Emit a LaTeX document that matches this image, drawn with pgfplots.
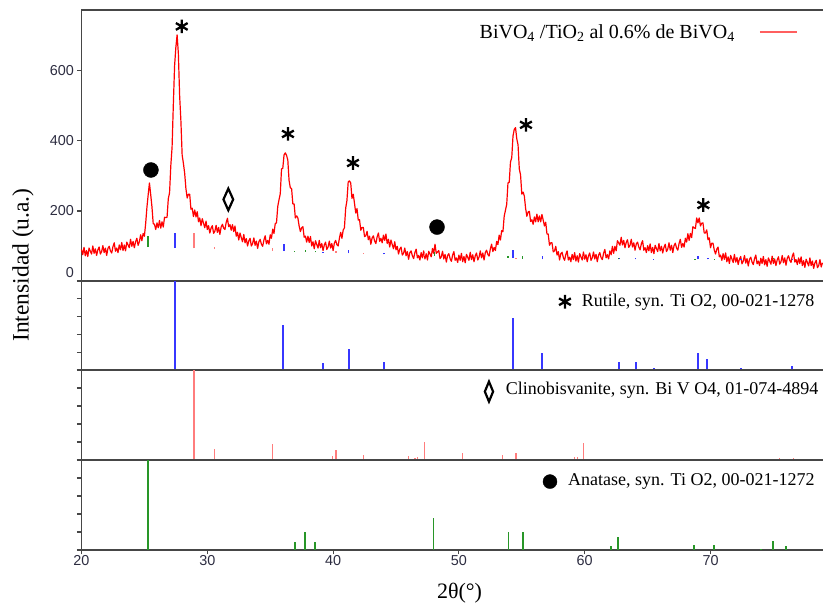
\documentclass[border=0pt]{standalone}
\usepackage{pgfplots}
\pgfplotsset{compat=1.18}
\usepackage{fontspec}
\setmainfont{Liberation Serif}
\newfontfamily\sansfont{Liberation Sans}
\definecolor{rutblue}{RGB}{55,55,255}
\definecolor{clinopink}{RGB}{255,125,125}
\definecolor{anagreen}{RGB}{40,150,40}
\definecolor{framegray}{RGB}{70,70,70}
\definecolor{ticktext}{RGB}{45,45,65}
\definecolor{legendred}{RGB}{255,95,95}
\pgfplotsset{
  panel/.style={
    scale only axis, anchor=south west, width=745pt,
    xmin=20, xmax=79.22,
    axis line style={framegray, line width=1.3pt},
    tick align=outside,
    major tick length=4.5pt,
    tick style={framegray, line width=1.1pt},
    ticklabel style={font=\sansfont\fontsize{14.4}{16}\selectfont, text=ticktext},
    /pgf/number format/assume math mode=true,
    xtick pos=bottom, ytick pos=left,
    clip=false,
  },
}
\begin{document}
\begin{tikzpicture}
\path[use as bounding box] (0,0) rectangle (823pt,607pt);

% ---------- top panel: measured pattern ----------
\begin{axis}[panel, at={(81.5pt,326pt)}, height=271pt,
  ymin=0, ymax=774, xtick=\empty,
  ytick={0,200,400,600},
  yticklabels={{\smash{\raisebox{3pt}{0}}},200,400,600},
  yticklabel style={inner sep=3pt},
  legend plot pos=right,
  legend image code/.code={\draw[legendred, line width=2pt] (0pt,0pt) -- (37pt,0pt);},
  legend style={at={(0.9617,0.918)}, anchor=east, draw=none, fill=none,
    inner sep=0pt, font=\fontsize{20}{22}\selectfont,
    /tikz/every odd column/.append style={column sep=22pt}},
]
\addplot[red, line width=1.2pt, line join=round, mark=none] coordinates {
(20.0,90) (20.1,75) (20.2,96) (20.3,72) (20.4,87) (20.5,70) (20.6,94) (20.7,85) (20.8,77) (20.9,100)
(21.0,79) (21.1,92) (21.2,73) (21.3,89) (21.4,97) (21.5,77) (21.6,84) (21.7,101) (21.8,81) (21.9,94)
(22.0,73) (22.1,93) (22.2,99) (22.3,86) (22.4,80) (22.5,98) (22.6,109) (22.7,85) (22.8,94) (22.9,81)
(23.0,103) (23.1,89) (23.2,110) (23.3,87) (23.4,103) (23.5,86) (23.6,111) (23.7,103) (23.8,95) (23.9,119)
(24.0,99) (24.1,113) (24.2,95) (24.3,112) (24.4,122) (24.5,102) (24.6,112) (24.7,132) (24.8,115) (24.9,136)
(25.0,128) (25.1,164) (25.2,210) (25.3,246) (25.4,280) (25.5,247) (25.6,212) (25.7,164) (25.8,162) (25.9,147)
(26.0,166) (26.1,152) (26.2,173) (26.3,151) (26.4,169) (26.5,154) (26.6,182) (26.7,181) (26.8,182) (26.9,235)
(27.0,252) (27.1,330) (27.2,382) (27.3,504) (27.4,615) (27.5,667) (27.6,703) (27.7,649) (27.8,530) (27.9,458)
(28.0,360) (28.1,336) (28.2,308) (28.3,264) (28.4,237) (28.5,248) (28.6,248) (28.7,205) (28.8,208) (28.9,184)
(29.0,203) (29.1,183) (29.2,198) (29.3,169) (29.4,180) (29.5,158) (29.6,178) (29.7,165) (29.8,152) (29.9,171)
(30.0,147) (30.1,158) (30.2,137) (30.3,151) (30.4,158) (30.5,136) (30.6,142) (30.7,159) (30.8,139) (30.9,153)
(31.0,133) (31.1,154) (31.2,162) (31.3,151) (31.4,147) (31.5,167) (31.6,179) (31.7,155) (31.8,161) (31.9,145)
(32.0,161) (32.1,141) (32.2,157) (32.3,128) (32.4,139) (32.5,117) (32.6,137) (32.7,124) (32.8,112) (32.9,133)
(33.0,109) (33.1,121) (33.2,100) (33.3,115) (33.4,122) (33.5,100) (33.6,107) (33.7,123) (33.8,102) (33.9,114)
(34.0,93) (34.1,112) (34.2,119) (34.3,105) (34.4,99) (34.5,117) (34.6,129) (34.7,106) (34.8,116) (34.9,105)
(35.0,132) (35.1,122) (35.2,148) (35.3,136) (35.4,164) (35.5,166) (35.6,213) (35.7,232) (35.8,249) (35.9,320)
(36.0,322) (36.1,360) (36.2,366) (36.3,359) (36.4,345) (36.5,287) (36.6,266) (36.7,264) (36.8,220) (36.9,220)
(37.0,180) (37.1,186) (37.2,180) (37.3,157) (37.4,141) (37.5,152) (37.6,155) (37.7,125) (37.8,128) (37.9,111)
(38.0,128) (38.1,110) (38.2,127) (38.3,100) (38.4,112) (38.5,92) (38.6,115) (38.7,104) (38.8,94) (38.9,116)
(39.0,95) (39.1,107) (39.2,87) (39.3,103) (39.4,111) (39.5,90) (39.6,97) (39.7,114) (39.8,94) (39.9,107)
(40.0,87) (40.1,108) (40.2,116) (40.3,104) (40.4,100) (40.5,122) (40.6,139) (40.7,122) (40.8,145) (40.9,152)
(41.0,208) (41.1,230) (41.2,283) (41.3,286) (41.4,280) (41.5,236) (41.6,248) (41.7,222) (41.8,194) (41.9,207)
(42.0,174) (42.1,175) (42.2,145) (42.3,153) (42.4,153) (42.5,127) (42.6,129) (42.7,142) (42.8,118) (42.9,128)
(43.0,105) (43.1,123) (43.2,129) (43.3,114) (43.4,107) (43.5,126) (43.6,137) (43.7,113) (43.8,122) (43.9,109)
(44.0,131) (44.1,116) (44.2,134) (44.3,107) (44.4,119) (44.5,97) (44.6,117) (44.7,104) (44.8,92) (44.9,112)
(45.0,89) (45.1,99) (45.2,77) (45.3,91) (45.4,97) (45.5,74) (45.6,79) (45.7,94) (45.8,72) (45.9,84)
(46.0,62) (46.1,81) (46.2,86) (46.3,72) (46.4,64) (46.5,81) (46.6,91) (46.7,66) (46.8,73) (46.9,60)
(47.0,81) (47.1,66) (47.2,86) (47.3,63) (47.4,78) (47.5,60) (47.6,85) (47.7,77) (47.8,69) (47.9,93)
(48.0,79) (48.1,105) (48.2,79) (48.3,83) (48.4,87) (48.5,64) (48.6,69) (48.7,85) (48.8,63) (48.9,76)
(49.0,54) (49.1,73) (49.2,78) (49.3,64) (49.4,56) (49.5,74) (49.6,84) (49.7,59) (49.8,66) (49.9,53)
(50.0,74) (50.1,59) (50.2,79) (50.3,55) (50.4,70) (50.5,52) (50.6,76) (50.7,68) (50.8,59) (50.9,82)
(51.0,61) (51.1,75) (51.2,55) (51.3,72) (51.4,80) (51.5,60) (51.6,68) (51.7,86) (51.8,66) (51.9,80)
(52.0,60) (52.1,81) (52.2,88) (52.3,76) (52.4,71) (52.5,92) (52.6,105) (52.7,84) (52.8,96) (52.9,87)
(53.0,113) (53.1,104) (53.2,131) (53.3,117) (53.4,144) (53.5,141) (53.6,185) (53.7,202) (53.8,219) (53.9,280)
(54.0,282) (54.1,340) (54.2,352) (54.3,414) (54.4,433) (54.5,438) (54.6,406) (54.7,389) (54.8,320) (54.9,303)
(55.0,248) (55.1,254) (55.2,243) (55.3,208) (55.4,185) (55.5,197) (55.6,199) (55.7,170) (55.8,175) (55.9,162)
(56.0,183) (56.1,169) (56.2,191) (56.3,169) (56.4,186) (56.5,169) (56.6,190) (56.7,174) (56.8,157) (56.9,168)
(57.0,134) (57.1,134) (57.2,102) (57.3,109) (57.4,109) (57.5,83) (57.6,86) (57.7,99) (57.8,74) (57.9,84)
(58.0,60) (58.1,78) (58.2,82) (58.3,67) (58.4,59) (58.5,76) (58.6,86) (58.7,60) (58.8,68) (58.9,55)
(59.0,76) (59.1,61) (59.2,81) (59.3,57) (59.4,72) (59.5,54) (59.6,78) (59.7,69) (59.8,60) (59.9,83)
(60.0,62) (60.1,75) (60.2,55) (60.3,72) (60.4,80) (60.5,59) (60.6,66) (60.7,83) (60.8,63) (60.9,76)
(61.0,55) (61.1,74) (61.2,81) (61.3,67) (61.4,61) (61.5,79) (61.6,90) (61.7,66) (61.8,75) (61.9,63)
(62.0,86) (62.1,75) (62.2,99) (62.3,79) (62.4,99) (62.5,86) (62.6,115) (62.7,109) (62.8,102) (62.9,125)
(63.0,103) (63.1,116) (63.2,95) (63.3,110) (63.4,118) (63.5,96) (63.6,102) (63.7,119) (63.8,97) (63.9,109)
(64.0,88) (64.1,106) (64.2,111) (64.3,97) (64.4,89) (64.5,106) (64.6,115) (64.7,88) (64.8,95) (64.9,81)
(65.0,101) (65.1,86) (65.2,106) (65.3,81) (65.4,96) (65.5,78) (65.6,102) (65.7,93) (65.8,84) (65.9,107)
(66.0,86) (66.1,99) (66.2,80) (66.3,96) (66.4,105) (66.5,84) (66.6,91) (66.7,109) (66.8,88) (66.9,102)
(67.0,81) (67.1,101) (67.2,108) (67.3,94) (67.4,88) (67.5,107) (67.6,119) (67.7,96) (67.8,107) (67.9,97)
(68.0,122) (68.1,111) (68.2,135) (68.3,116) (68.4,136) (68.5,124) (68.6,155) (68.7,152) (68.8,150) (68.9,180)
(69.0,166) (69.1,180) (69.2,157) (69.3,165) (69.4,166) (69.5,137) (69.6,137) (69.7,146) (69.8,118) (69.9,123)
(70.0,95) (70.1,108) (70.2,108) (70.3,88) (70.4,77) (70.5,91) (70.6,97) (70.7,69) (70.8,74) (70.9,59)
(71.0,78) (71.1,62) (71.2,80) (71.3,55) (71.4,69) (71.5,50) (71.6,73) (71.7,63) (71.8,53) (71.9,76)
(72.0,54) (72.1,67) (72.2,47) (72.3,63) (72.4,70) (72.5,49) (72.6,56) (72.7,73) (72.8,51) (72.9,64)
(73.0,43) (73.1,62) (73.2,68) (73.3,54) (73.4,47) (73.5,64) (73.6,74) (73.7,49) (73.8,57) (73.9,44)
(74.0,65) (74.1,50) (74.2,70) (74.3,46) (74.4,61) (74.5,42) (74.6,66) (74.7,57) (74.8,48) (74.9,71)
(75.0,50) (75.1,63) (75.2,44) (75.3,60) (75.4,69) (75.5,48) (75.6,55) (75.7,73) (75.8,52) (75.9,66)
(76.0,45) (76.1,65) (76.2,72) (76.3,59) (76.4,53) (76.5,71) (76.6,80) (76.7,54) (76.8,61) (76.9,47)
(77.0,66) (77.1,50) (77.2,69) (77.3,44) (77.4,58) (77.5,39) (77.6,62) (77.7,53) (77.8,43) (77.9,66)
(78.0,44) (78.1,57) (78.2,36) (78.3,52) (78.4,59) (78.5,38) (78.6,44) (78.7,61) (78.8,40) (78.9,52)
};
\addlegendentry{BiVO\textsubscript{4} /TiO\textsubscript{2} al 0.6\% de BiVO\textsubscript{4}}
% reference sticks overlaid on the pattern
\addplot[forget plot, draw=none, mark=none, error bars/.cd, y dir=plus, y explicit, error mark=none,
  error bar style={draw=rutblue, line width=1.6pt}] coordinates {
(27.45,94) +- (0,42) (36.09,85) +- (0,21) (39.19,81) +- (0,3.2) (41.23,79) +- (0,10)
(44.05,76) +- (0,4) (54.32,65) +- (0,24) (56.64,62) +- (0,8) (62.74,62) +- (0,4)
(64.04,62) +- (0,4) (65.48,62) +- (0,1) (69.01,62) +- (0,8) (69.79,62) +- (0,5)
(72.41,62) +- (0,1) (76.51,62) +- (0,2)};
\addplot[forget plot, draw=none, mark=none, error bars/.cd, y dir=plus, y explicit, error mark=none,
  error bar style={draw=anagreen, line width=1.4pt}] coordinates {
(25.28,97) +- (0,31) (36.95,84) +- (0,3) (37.80,83) +- (0,6) (38.58,82) +- (0,3)
(48.05,72) +- (0,11) (53.89,66) +- (0,6) (55.06,64) +- (0,6) (62.69,62) +- (0,4)
(68.76,62) +- (0,2) (70.31,62) +- (0,2) (75.03,62) +- (0,3)};
\addplot[forget plot, draw=none, mark=none, error bars/.cd, y dir=plus, y explicit, error mark=none,
  error bar style={draw=clinopink, line width=1.3pt}] coordinates {
(28.94,93) +- (0,45) (30.56,91) +- (0,6) (35.2,86) +- (0,8) (40.23,80) +- (0,5)
(42.4,78) +- (0,3) (47.25,72) +- (0,9) (50.3,69) +- (0,3) (54.54,64) +- (0,3) (59.92,62) +- (0,9)};
% phase markers
\addplot[forget plot, only marks, mark=asterisk, mark size=6.8pt,
  mark options={black, line width=2.3pt}] coordinates {
(27.97,727) (36.41,420) (41.58,337) (55.33,446) (69.43,217)};
\addplot[forget plot, only marks, mark=*, mark size=7.5pt, mark options={black, fill=black}]
  coordinates {(25.52,317) (48.26,154)};
\addplot[forget plot, only marks, mark=diamond, mark size=10.8pt,
  mark options={black, fill=white, line width=2.2pt, xscale=0.6}] coordinates {(31.67,233)};
\end{axis}

% ---------- Rutile ----------
\begin{axis}[panel, at={(81.5pt,237pt)}, height=89pt,
  ymin=0, ymax=100, xtick=\empty, ytick={0,20,...,100}, yticklabels={}]
\addplot[ycomb, rutblue, line width=2pt, mark=none] coordinates {
(27.45,100) (36.05,50) (39.19,7.5) (41.24,24) (44.03,9) (54.30,58) (56.60,19.5)
(62.73,9.3) (64.05,9.3) (65.50,2) (68.98,19.5) (69.75,12) (72.40,2) (74.41,1) (76.48,4)};
\addplot[only marks, mark=asterisk, mark size=6.8pt, mark options={black, line width=2.3pt}]
  coordinates {(58.43,76.7)};
\node[anchor=west, inner sep=0pt, font=\fontsize{18}{20}\selectfont]
  at (axis cs:59.76,76.7) {Rutile, syn. Ti O2, 00-021-1278};
\end{axis}

% ---------- Clinobisvanite ----------
\begin{axis}[panel, at={(81.5pt,147pt)}, height=90pt,
  ymin=0, ymax=100, xtick=\empty, ytick={0,20,...,100}, yticklabels={}]
\addplot[ycomb, clinopink, line width=1.5pt, mark=none] coordinates {
(28.94,100) (30.56,12.7) (35.20,17.6) (39.97,4) (40.23,11) (42.40,6) (46.00,4)
(46.50,2) (46.70,3) (47.25,20) (50.30,7.5) (53.45,6) (54.54,7.5) (56.20,1) (58.50,1)
(59.17,3) (59.44,3) (59.92,19) (67.20,1) (70.57,1) (75.50,2) (76.60,2) (77.70,1)};
\addplot[only marks, mark=diamond, mark size=10pt,
  mark options={black, fill=white, line width=2.2pt, xscale=0.55}] coordinates {(52.39,76)};
\node[anchor=west, inner sep=0pt, font=\fontsize{18}{20}\selectfont]
  at (axis cs:53.72,77.5) {Clinobisvanite, syn. Bi V O4, 01-074-4894};
\end{axis}

% ---------- Anatase ----------
\begin{axis}[panel, at={(81.5pt,57pt)}, height=90pt,
  ymin=0, ymax=100, xtick={20,30,...,70}, ytick={0,20,...,100}, yticklabels={},
  xticklabel style={inner sep=1pt}]
\addplot[ycomb, anagreen, line width=1.7pt, mark=none] coordinates {
(25.26,100) (36.95,9) (37.74,20) (38.56,9) (47.97,35) (53.93,20) (55.07,20)
(62.07,4) (62.62,14) (68.71,6) (70.25,6) (74.00,1) (74.99,10) (76.00,4)};
\addplot[only marks, mark=*, mark size=7pt, mark options={black, fill=black}]
  coordinates {(57.24,76)};
\node[anchor=west, inner sep=0pt, font=\fontsize{18}{20}\selectfont]
  at (axis cs:58.67,76.5) {Anatase, syn. Ti O2, 00-021-1272};
\end{axis}

% axis titles
\node[rotate=90, font=\fontsize{23.5}{26}\selectfont, inner sep=0pt] at (23pt,342pt) {Intensidad (u.a.)};
\node[font=\fontsize{22}{24}\selectfont, inner sep=0pt] at (459.5pt,14pt) {2θ(°)};
\end{tikzpicture}
\end{document}
